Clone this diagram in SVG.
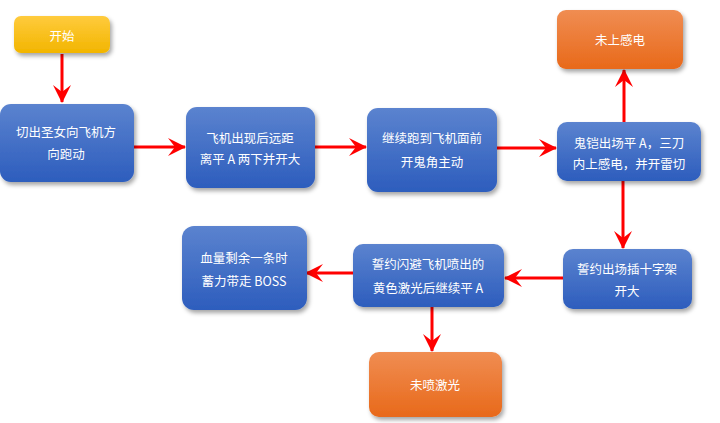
<svg xmlns="http://www.w3.org/2000/svg" width="720" height="423" viewBox="0 0 720 423">
<defs>
<linearGradient id="gBlue" x1="0" y1="0" x2="0" y2="1">
<stop offset="0" stop-color="#5b83cf"/>
<stop offset="1" stop-color="#2d5dbd"/>
</linearGradient>
<linearGradient id="gOrange" x1="0" y1="0" x2="0" y2="1">
<stop offset="0" stop-color="#f08d52"/>
<stop offset="1" stop-color="#e8691a"/>
</linearGradient>
<linearGradient id="gYellow" x1="0" y1="0" x2="0" y2="1">
<stop offset="0" stop-color="#ffcb3d"/>
<stop offset="1" stop-color="#f2b500"/>
</linearGradient>
<filter id="sh" x="-20%" y="-20%" width="140%" height="150%">
<feDropShadow dx="2" dy="3" stdDeviation="2.2" flood-color="#000" flood-opacity="0.35"/>
</filter>
<marker id="ah" viewBox="0 0 18 20" refX="17" refY="10" markerWidth="18" markerHeight="20" markerUnits="userSpaceOnUse" orient="auto">
<path d="M18,10 L0,1 L7,10 L0,19 Z" fill="#ff0000"/>
</marker>
</defs>
<style>
.b{fill:url(#gBlue);filter:url(#sh)}
.o{fill:url(#gOrange);filter:url(#sh)}
.y{fill:url(#gYellow);filter:url(#sh)}
text{font-family:"Noto Sans CJK SC","Noto Sans",sans-serif;font-size:12.5px;fill:#fff;text-anchor:middle;dominant-baseline:central}
.c{stroke:#ff0000;stroke-width:3;fill:none;marker-end:url(#ah)}
</style>
<rect width="720" height="423" fill="#fff"/>
<g id="connectors">
<line class="c" x1="62" y1="54" x2="62" y2="102"/>
<line class="c" x1="134" y1="147" x2="185" y2="147"/>
<line class="c" x1="315" y1="147" x2="366" y2="147"/>
<line class="c" x1="497" y1="148" x2="556" y2="148"/>
<line class="c" x1="624" y1="122" x2="624" y2="70"/>
<line class="c" x1="623" y1="181" x2="623" y2="248"/>
<line class="c" x1="563" y1="278" x2="505" y2="278"/>
<line class="c" x1="353" y1="273" x2="306" y2="273"/>
<line class="c" x1="432" y1="307" x2="432" y2="351"/>
</g>
<g id="start"><rect class="y" x="14" y="16" width="96" height="37" rx="7"/><text x="62" y="35">开始</text></g>
<g id="n1"><rect class="b" x="0" y="104" width="134" height="78" rx="11"/><text x="66" y="131">切出圣女向飞机方</text><text x="66" y="153">向跑动</text></g>
<g id="n2"><rect class="b" x="186" y="107" width="129" height="81" rx="11"/><text x="250" y="137">飞机出现后远距</text><text x="250" y="158">离平 A 两下并开大</text></g>
<g id="n3"><rect class="b" x="367" y="108" width="130" height="84" rx="11"/><text x="432" y="137">继续跑到飞机面前</text><text x="432" y="161">开鬼角主动</text></g>
<g id="n4"><rect class="o" x="557" y="10" width="126" height="59" rx="9"/><text x="620" y="39">未上感电</text></g>
<g id="n5"><rect class="b" x="557" y="122" width="144" height="59" rx="10"/><text x="629" y="142">鬼铠出场平 A，三刀</text><text x="629" y="163">内上感电，并开雷切</text></g>
<g id="n6"><rect class="b" x="563" y="249" width="129" height="60" rx="10"/><text x="627" y="268">誓约出场插十字架</text><text x="627" y="290">开大</text></g>
<g id="n7"><rect class="b" x="353" y="244" width="151" height="63" rx="10"/><text x="428" y="263">誓约闪避飞机喷出的</text><text x="428" y="287">黄色激光后继续平 A</text></g>
<g id="n8"><rect class="b" x="182" y="226" width="125" height="84" rx="12"/><text x="244" y="257">血量剩余一条时</text><text x="244" y="280">蓄力带走 BOSS</text></g>
<g id="n9"><rect class="o" x="369" y="352" width="133" height="65" rx="10"/><text x="435" y="384">未喷激光</text></g>
</svg>
